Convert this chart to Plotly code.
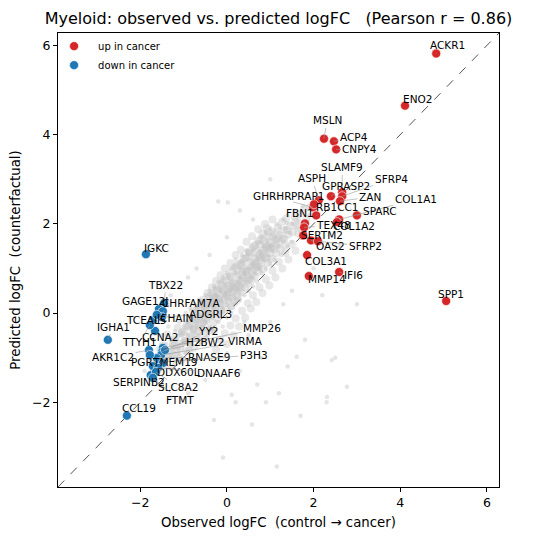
import plotly.graph_objects as go

#------------------------------
# dati
#------------------------------

# geni "up in cancer"
up_genes = ["ACKR1", "ENO2", "MSLN", "ACP4", "CNPY4", "SLAMF9", "ASPH", "GPRASP2",
            "SFRP4", "GHRHR", "PRAP1", "ZAN", "COL1A1", "RB1CC1", "SPARC", "FBN1",
            "TEX48", "COL1A2", "SERTM2", "OAS2", "SFRP2", "COL3A1", "IFI6", "MMP14", "SPP1"]
up_obs  = [4.83, 4.11, 2.24, 2.47, 2.52, 2.66, 2.12, 2.40,
           2.66, 1.99, 2.01, 2.61, 2.59, 2.06, 3.00, 1.80,
           1.78, 2.54, 1.76, 1.94, 2.10, 1.85, 2.59, 1.89, 5.06]
up_pred = [5.82, 4.65, 3.91, 3.85, 3.67, 2.71, 2.53, 2.62,
           2.62, 2.37, 2.44, 2.51, 2.10, 2.19, 2.19, 2.01,
           1.92, 2.04, 1.74, 1.63, 1.61, 1.30, 0.92, 0.83, 0.27]

# geni "down in cancer"
down_genes = ["IGKC", "TBX22", "GAGE12J", "CHRFAM7A", "ADGRL3", "TCEAL5", "JCHAIN", "IGHA1",
              "MMP26", "YY2", "CCNA2", "TTYH1", "VIRMA", "H2BW2", "AKR1C2", "RNASE9",
              "P3H3", "PGR", "TMEM19", "DDX60L", "DNAAF6", "SERPINB2", "SLC8A2", "FTMT", "CCL19"]
down_obs  = [-1.87, -1.45, -1.57, -1.48, -1.50, -1.71, -1.62, -2.75,
             -1.48, -1.50, -1.66, -1.78, -1.52, -1.43, -1.80, -1.62,
             -1.55, -1.78, -1.71, -1.48, -1.59, -1.76, -1.64, -1.71, -2.31]
down_pred = [1.32, 0.22, 0.09, 0.04, -0.09, -0.16, -0.04, -0.60,
             -0.78, -0.87, -0.40, -0.27, -0.94, -0.83, -0.83, -1.01,
             -1.10, -0.94, -1.19, -1.12, -1.23, -1.39, -1.32, -1.45, -2.30]

# altri geni (nuvola grigia): parte sparsa
bg_obs = [-1.9, -1.8, -1.75, -1.7, -1.65, -1.6, -1.55, -1.5, -1.45, -1.4, -1.4, -1.35, -1.3, -1.3,
          -1.25, -1.2, -1.2, -1.15, -1.1, -1.1, -1.05, -1.0, -1.0, -0.95, -0.95, -0.9, -0.9, -0.85,
          -0.85, -0.8, -0.8, -0.75, -0.75, -0.7, -0.7, -0.65, -0.65, -0.6, -0.6, -0.55, -0.55, -0.5,
          -0.5, -0.5, -0.45, -0.45, -0.4, -0.4, -0.4, -0.35, -0.35, -0.3, -0.3, -0.3, -0.25, -0.25,
          -0.2, -0.2, -0.2, -0.15, -0.15, -0.1, -0.1, -0.1, -0.05, -0.05, 0.0, 0.0, 0.0, 0.05, 0.05,
          0.1, 0.1, 0.1, 0.15, 0.15, 0.2, 0.2, 0.2, 0.25, 0.25, 0.3, 0.3, 0.3, 0.35, 0.35, 0.4, 0.4,
          0.4, 0.45, 0.45, 0.5, 0.5, 0.5, 0.55, 0.55, 0.6, 0.6, 0.65, 0.65, 0.7, 0.7, 0.7, 0.75, 0.75,
          0.8, 0.8, 0.85, 0.85, 0.9, 0.9, 0.95, 1.0, 1.0, 1.0, 1.05, 1.1, 1.1, 1.15, 1.2, 1.2, 1.25,
          1.3, 1.3, 1.35, 1.4, 1.4, 1.45, 1.5, 1.5, 1.55, 1.6, 1.65, 1.7, 1.75, 1.8, 1.9, 2.0,
          -1.62, -1.28, -1.08, -0.92, -0.68, -0.58, -0.42, -0.28, -0.12, 0.02, 0.18, 0.32, 0.48,
          0.62, 0.78, 0.92, 1.08, 1.22, 1.38, 0.12, 0.42, 0.72, -0.22, -0.52, -0.82, -1.12,
          -0.4, 0.0, 0.3, -0.9, -1.3, 0.6, 1.2, -0.2, 1.0, -1.5, -0.7, 0.02,
          0.5, 1.0, 1.5, 0.8, 0.3, 1.2, 0.58, -0.09, 1.15, 0.9, 1.8, 2.2, 2.5, 1.4, 0.2, -0.5,
          -0.9, -1.3, 0.0, 2.0, 2.6, 3.0, -0.3, 1.7, 0.4, 1.3, 2.3, 0.7, 2.42, 2.77, 1.61, 2.31, 0.11]
bg_pred = [-1.3, -0.9, -1.5, -0.6, -1.1, -0.8, -1.3, -0.5, -0.9, -1.2, -0.7, -0.3, -1.0, -0.6,
           -0.8, -0.4, -1.1, -0.6, -0.2, -0.9, -0.5, -0.7, -0.3, 0.0, -0.9, -0.5, -0.2, -0.7,
           0.1, -0.4, -0.1, -0.6, 0.2, -0.3, 0.0, -0.5, 0.3, -0.1, -0.7, 0.1, -0.3, 0.4,
           -0.2, 0.0, -0.5, 0.2, 0.0, 0.5, -0.3, 0.3, -0.1, 0.1, 0.6, -0.4, 0.2, 0.4,
           0.0, 0.7, -0.2, 0.3, 0.5, 0.1, 0.8, -0.3, 0.4, 0.6, 0.2, 0.9, -0.1, 0.5, 0.3,
           0.7, 0.0, 1.0, 0.4, 0.6, 0.2, 0.9, 1.2, 0.5, 0.7, 0.3, 1.0, 0.8, 0.6, 1.3, 0.4, 0.9,
           1.1, 0.7, 1.4, 0.5, 1.0, 1.2, 0.8, 1.5, 0.6, 1.1, 1.3, 0.9, 1.6, 0.7, 1.2, 1.0, 1.4,
           0.9, 1.7, 1.2, 1.5, 1.0, 1.8, 1.3, 1.5, 1.1, 1.9, 1.4, 1.7, 1.2, 2.0, 1.5, 1.8, 1.3,
           2.1, 1.6, 1.9, 1.5, 2.2, 1.8, 2.0, 1.6, 2.3, 1.9, 2.1, 1.7, 2.4, 2.0, 2.2, 2.5,
           -1.05, -0.72, -0.45, -0.18, 0.12, 0.28, 0.42, 0.55, 0.72, 0.82, 1.05, 1.15, 1.32,
           1.42, 1.58, 1.62, 1.82, 1.92, 2.02, 0.52, 0.85, 1.02, 0.38, 0.12, -0.32, -0.52,
           1.3, 1.7, 2.3, 0.8, 0.4, 2.1, 2.6, 2.5, 3.0, 0.3, 1.0, 2.48,
           -0.5, -0.2, 0.5, -1.0, -1.3, -1.8, -2.5, -3.24, -3.44, -2.0, -0.6, 0.4, -1.0, -1.2, -2.0, -1.5,
           -1.8, -1.9, -0.9, 1.0, 1.5, 0.2, -2.4, -2.3, -0.2, 0.2, -2.0, -1.6, -1.05, -1.65, -0.98, -1.88, -1.83]

# altri geni (nuvola grigia): nucleo denso
core_obs = [-1.52, -1.48, -1.44, -1.38, -1.33, -1.27, -1.22, -1.18, -1.14, -1.08, -1.04, -0.98,
            -0.94, -0.88, -0.86, -0.82, -0.78, -0.76, -0.72, -0.68, -0.66, -0.62, -0.58, -0.56,
            -0.52, -0.48, -0.46, -0.43, -0.41, -0.38, -0.36, -0.33, -0.31, -0.28, -0.26, -0.24,
            -0.22, -0.19, -0.17, -0.14, -0.12, -0.09, -0.07, -0.04, -0.02, 0.02, 0.04, 0.07, 0.09,
            0.12, 0.14, 0.17, 0.19, 0.22, 0.24, 0.27, 0.29, 0.32, 0.34, 0.37, 0.39, 0.42, 0.44,
            0.47, 0.49, 0.52, 0.54, 0.57, 0.59, 0.62, 0.64, 0.67, 0.69, 0.72, 0.74, 0.77, 0.79,
            0.82, 0.84, 0.87, 0.89, 0.92, 0.94, 0.97, 0.99, 1.02, 1.04, 1.07, 1.09, 1.12, 1.14,
            1.17, 1.19, 1.22, 1.24, 1.27, 1.29, 1.32, 1.34, 1.37, 1.42, 1.46, 1.52, 1.56, 1.62,
            1.68, 1.72, 1.78, 1.84, 1.92, -0.02, 0.06, 0.26, 0.36, 0.46, 0.56, 0.66, 0.76, 0.86,
            0.96, -0.16, -0.26, -0.36, -0.46, -0.56, -0.66, -0.76, -0.86, -0.96, -1.06, -1.16,
            -1.26, -1.36, -1.46, -1.58, -1.68, -1.78, -0.08, 0.16, 0.34, 0.58, 0.78, 0.98, 1.18,
            1.38, 1.58, -0.63, -0.33, 0.03, 0.23, 0.43, 0.63, 0.83, 1.03, -0.93, -1.23, 0.53,
            0.13, -0.13, 0.33, 0.73, 0.93, 1.13, 1.33, -0.53, -0.73, -1.03]
core_pred = [-1.18, -0.72, -1.02, -0.48, -0.88, -1.22, -0.62, -0.95, -0.33, -0.78, -1.05, -0.42,
             -0.64, -0.85, -0.28, -0.55, 0.05, -0.78, -0.18, -0.42, 0.12, -0.62, -0.24, 0.22,
             -0.45, 0.08, -0.12, 0.32, -0.38, 0.14, -0.06, 0.42, -0.22, 0.24, 0.02, 0.52,
             -0.12, 0.34, 0.12, 0.62, -0.04, 0.44, 0.22, 0.72, 0.08, 0.54, 0.32, 0.82, 0.16,
             0.48, 0.68, 0.28, 1.04, 0.58, 0.38, 0.86, 0.62, 1.12, 0.46, 0.78, 0.98, 0.56, 1.24,
             0.84, 0.66, 1.06, 1.34, 0.74, 0.96, 1.22, 0.82, 1.44, 1.04, 0.92, 1.28, 1.54, 1.12,
             1.36, 0.98, 1.62, 1.24, 1.46, 1.12, 1.72, 1.34, 1.58, 1.22, 1.82, 1.44, 1.64, 1.34,
             1.92, 1.58, 1.74, 1.42, 2.04, 1.68, 1.86, 1.52, 2.12, 1.76, 1.96, 1.82, 2.16, 1.98,
             2.22, 1.88, 2.32, 2.12, 2.38, 0.38, 0.62, 0.48, 0.92, 0.72, 1.02, 1.12, 1.18, 1.42,
             1.52, 0.22, 0.36, 0.22, -0.02, -0.12, -0.26, -0.36, -0.52, -0.62, -0.68, -0.82,
             -0.92, -0.98, -1.12, -1.04, -1.22, -1.12, 0.28, 0.52, 0.72, 0.88, 1.26, 1.44, 1.68,
             1.86, 2.04, -0.08, 0.18, 0.46, 0.66, 0.92, 1.08, 1.32, 1.48, -0.28, -0.58, 0.78,
             0.34, 0.06, 0.58, 1.02, 1.22, 1.52, 1.66, -0.22, -0.12, -0.42]

# altri geni (nuvola grigia): bordi del nucleo
edge_obs = [-1.15, -1.05, -0.98, -0.9, -0.82, -0.78, -0.7, -0.62, -0.66, -0.55, -0.5, -0.45,
            -0.4, -0.35, -0.3, -0.25, -0.2, -0.15, -0.1, -0.05, 0.0, 0.08, 0.12, 0.2, 0.25, 0.32,
            0.38, 0.45, 0.5, 0.58, 0.65, 0.72, 0.8, 0.88, 0.95, 1.05,
            -0.25, -0.15, -0.05, 0.0, 0.08, 0.15, 0.2, 0.28, 0.35, 0.42, 0.48, 0.55, 0.6, 0.68,
            0.75, 0.82, 0.9, 0.98, 1.05, 1.12, 1.2, 1.28, 1.35, 1.42, 1.5, 1.58, 1.65,
            -0.85, -0.7, -0.58, -0.48, -0.38, -0.28, -0.18, -0.08, 0.02, 0.12, 0.22, 0.32, 0.42,
            0.52, 0.62, 0.72, 0.82, 0.92, -0.75, -0.6, -0.45, -0.3, -0.15, 0.0, 0.15, 0.3, 0.45,
            0.6, 0.75, 0.9, 1.05, -0.95, -1.1, -1.25, -0.5, -0.3, 0.1, 0.25]
edge_pred = [-0.75, -0.45, -0.62, -0.3, -0.12, -0.38, 0.05, 0.18, -0.08, 0.3, 0.12, 0.45,
             0.28, 0.58, 0.4, 0.72, 0.55, 0.85, 0.68, 1.0, 0.82, 1.12, 0.95, 1.3, 1.08, 1.42,
             1.22, 1.6, 1.38, 1.72, 1.52, 1.88, 1.68, 2.0, 1.82, 2.1,
             -0.82, -0.6, -0.45, -0.7, -0.28, -0.5, -0.12, -0.3, 0.05, -0.1, 0.22, 0.1, 0.4, 0.25,
             0.58, 0.45, 0.75, 0.62, 0.95, 0.8, 1.15, 1.0, 1.35, 1.2, 1.55, 1.4, 1.78,
             -0.7, -0.52, -0.35, -0.18, -0.02, 0.15, 0.3, 0.48, 0.62, 0.78, 0.92, 1.08, 1.22,
             1.36, 1.5, 1.62, 1.78, 1.9, -0.22, -0.02, 0.2, 0.35, 0.52, 0.4, 0.6, 0.75, 0.95,
             1.15, 1.32, 1.5, 1.7, -0.85, -1.0, -0.7, -0.6, -0.4, 0.15, 0.3]

# posizione delle etichette (centro del testo)
up_lab_x = [5.08, 4.41, 2.31, 2.93, 3.07, 2.66, 1.96, 2.75,
            3.79, 1.04, 1.85, 3.30, 4.36, 2.56, 3.53, 1.69,
            2.47, 2.93, 2.19, 2.38, 3.19, 2.29, 2.91, 2.31, 5.17]
up_lab_y = [6.00, 4.81, 4.32, 3.94, 3.67, 3.27, 3.02, 2.86,
            3.00, 2.62, 2.62, 2.60, 2.55, 2.37, 2.30, 2.24,
            1.97, 1.95, 1.74, 1.50, 1.50, 1.16, 0.85, 0.76, 0.43]
down_lab_x = [-1.62, -1.41, -1.89, -0.81, -0.37, -1.87, -1.22, -2.61,
              0.81, -0.42, -1.55, -2.01, 0.42, -0.51, -2.63, -0.42,
              0.62, -1.96, -1.20, -1.13, -0.18, -2.03, -1.13, -1.09, -2.03]
down_lab_y = [1.45, 0.63, 0.27, 0.22, -0.02, -0.16, -0.11, -0.31,
              -0.34, -0.40, -0.54, -0.65, -0.63, -0.65, -0.98, -0.98,
              -0.94, -1.10, -1.10, -1.32, -1.34, -1.54, -1.66, -1.95, -2.13]

LO, HI = -3.9, 6.28
FONT = "DejaVu Sans"

#------------------------------
# figura
#------------------------------
fig = go.Figure()

# punti sparsi piccoli e tenui
fig.add_trace(go.Scatter(x=bg_obs, y=bg_pred, mode="markers", showlegend=False,
                         hoverinfo="skip", marker=dict(size=4.5, color="rgba(190,190,190,0.4)")))
# nucleo: punti piu' grandi che si fondono in una macchia
fig.add_trace(go.Scatter(x=core_obs + edge_obs, y=core_pred + edge_pred, mode="markers",
                         showlegend=False, hoverinfo="skip",
                         marker=dict(size=8, color="rgba(195,195,195,0.38)")))

# diagonale y = x
fig.add_trace(go.Scatter(x=[LO, HI], y=[LO, HI], mode="lines", showlegend=False,
                         line=dict(color="#555555", width=1, dash="dash"), hoverinfo="skip"))

fig.add_trace(go.Scatter(x=up_obs, y=up_pred, mode="markers", name="up in cancer",
                         text=up_genes,
                         marker=dict(size=9, color="#d62728", line=dict(color="white", width=0.6))))
fig.add_trace(go.Scatter(x=down_obs, y=down_pred, mode="markers", name="down in cancer",
                         text=down_genes,
                         marker=dict(size=9, color="#1f77b4", line=dict(color="white", width=0.6))))

# etichette con linee di collegamento
for genes, xs, ys, lx, ly in [(up_genes, up_obs, up_pred, up_lab_x, up_lab_y),
                              (down_genes, down_obs, down_pred, down_lab_x, down_lab_y)]:
    for g, x, y, tx, ty in zip(genes, xs, ys, lx, ly):
        fig.add_annotation(x=x, y=y, ax=tx, ay=ty, axref="x", ayref="y", text=g,
                           showarrow=True, arrowhead=0, arrowwidth=0.6, arrowcolor="#999999",
                           standoff=0, startstandoff=0,
                           font=dict(family=FONT, size=10.5, color="black"))

axis = dict(range=[LO, HI], showgrid=False, zeroline=False, showline=True, mirror=True,
            linecolor="black", linewidth=1, ticks="outside", ticklen=4, tickcolor="black",
            tickvals=[-2, 0, 2, 4, 6], automargin=False,
            tickfont=dict(family=FONT, size=12.5, color="black"))

# la pagina ha un bordo di 8px: margini sinistro/alto ridotti di conseguenza
fig.update_layout(
    width=539, height=540,
    margin=dict(l=50, r=48, t=25, b=61, autoexpand=False),
    plot_bgcolor="white", paper_bgcolor="white",
    font=dict(family=FONT, color="black"),
    title=dict(text="Myeloid: observed vs. predicted logFC   (Pearson r = 0.86)",
               x=0.5, xref="paper", xanchor="center", y=0.981, yanchor="middle",
               yref="container", font=dict(family=FONT, size=16, color="black")),
    xaxis=dict(axis, title=dict(text="Observed logFC  (control → cancer)", standoff=8,
                                font=dict(family=FONT, size=13.3))),
    yaxis=dict(axis, title=dict(text="Predicted logFC  (counterfactual)", standoff=8,
                                font=dict(family=FONT, size=13.3))),
    legend=dict(x=-0.018, y=1.003, xanchor="left", yanchor="top", bgcolor="rgba(0,0,0,0)",
                font=dict(family=FONT, size=10), itemwidth=38, tracegroupgap=0),
    showlegend=True,
)

fig.write_html("out.html")
